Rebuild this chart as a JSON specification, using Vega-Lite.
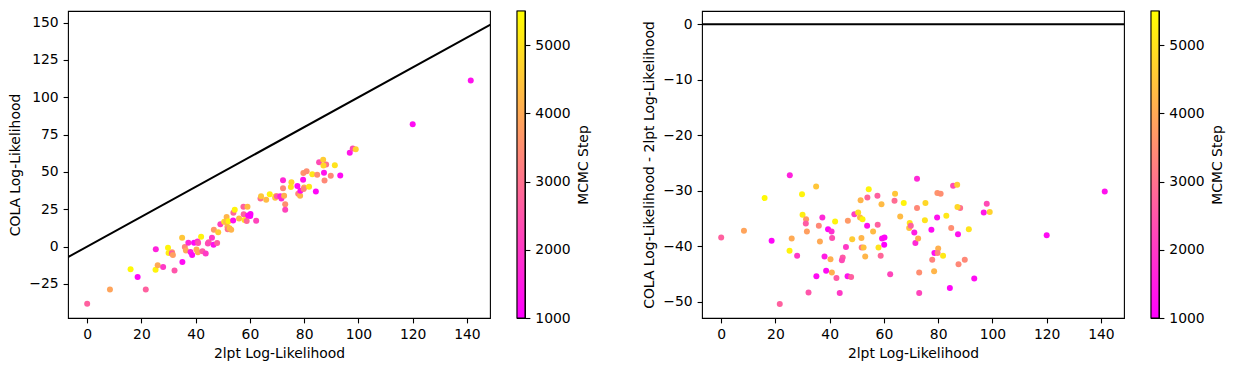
{
  "$schema": "https://vega.github.io/schema/vega-lite/v6.json",
  "padding": {"left": 8, "top": 9, "right": 5, "bottom": 5},
  "background": "white",
  "config": {
    "font": "DejaVu Sans",
    "view": {"stroke": "black", "strokeWidth": 1.1},
    "axis": {
      "labelFont": "DejaVu Sans", "labelFontSize": 13.9, "labelColor": "black",
      "titleFont": "DejaVu Sans", "titleFontSize": 13.9, "titleFontWeight": "normal", "titleColor": "black",
      "tickColor": "black", "tickSize": 4.9, "tickWidth": 1.1, "labelPadding": 4.9,
      "grid": false, "domain": false, "labelFlush": false, "labelOverlap": false, "labelBound": false,
      "titlePadding": 6
    }
  },
  "datasets": {
    "pts": [
      {"x": 0.0, "cola": -38.4, "diff": -38.4, "step": 2700},
      {"x": 8.4, "cola": -28.8, "diff": -37.2, "step": 3900},
      {"x": 16.0, "cola": -15.3, "diff": -31.3, "step": 5400},
      {"x": 18.6, "cola": -20.4, "diff": -39.0, "step": 1100},
      {"x": 21.6, "cola": -28.8, "diff": -50.4, "step": 2700},
      {"x": 25.3, "cola": -1.9, "diff": -27.2, "step": 1600},
      {"x": 25.2, "cola": -15.6, "diff": -40.8, "step": 5300},
      {"x": 26.0, "cola": -12.6, "diff": -38.6, "step": 4000},
      {"x": 28.0, "cola": -13.7, "diff": -41.7, "step": 2000},
      {"x": 29.8, "cola": -0.8, "diff": -30.6, "step": 5300},
      {"x": 30.0, "cola": -4.3, "diff": -34.3, "step": 5200},
      {"x": 31.3, "cola": -3.8, "diff": -35.1, "step": 3700},
      {"x": 31.2, "cola": -4.7, "diff": -35.9, "step": 2600},
      {"x": 31.6, "cola": -5.7, "diff": -37.3, "step": 3800},
      {"x": 32.2, "cola": -16.1, "diff": -48.3, "step": 2500},
      {"x": 35.0, "cola": 5.8, "diff": -29.2, "step": 4500},
      {"x": 35.1, "cola": -10.3, "diff": -45.4, "step": 1200},
      {"x": 36.0, "cola": -0.3, "diff": -36.3, "step": 3400},
      {"x": 36.4, "cola": -2.7, "diff": -39.1, "step": 4000},
      {"x": 37.3, "cola": 2.5, "diff": -34.8, "step": 1700},
      {"x": 38.1, "cola": -3.7, "diff": -41.8, "step": 1500},
      {"x": 38.7, "cola": -5.7, "diff": -44.4, "step": 1200},
      {"x": 39.4, "cola": 2.5, "diff": -36.9, "step": 1100},
      {"x": 40.3, "cola": -2.0, "diff": -42.3, "step": 4100},
      {"x": 40.7, "cola": 3.4, "diff": -37.3, "step": 1800},
      {"x": 40.9, "cola": 2.4, "diff": -38.5, "step": 2400},
      {"x": 40.8, "cola": -3.9, "diff": -44.7, "step": 4100},
      {"x": 42.0, "cola": 6.5, "diff": -35.5, "step": 5300},
      {"x": 42.5, "cola": -3.2, "diff": -45.7, "step": 2600},
      {"x": 43.7, "cola": -4.7, "diff": -48.4, "step": 2000},
      {"x": 44.8, "cola": 2.8, "diff": -42.0, "step": 2600},
      {"x": 44.5, "cola": 2.0, "diff": -42.5, "step": 2300},
      {"x": 46.0, "cola": 5.9, "diff": -40.1, "step": 2000},
      {"x": 46.6, "cola": 1.2, "diff": -45.4, "step": 1300},
      {"x": 47.9, "cola": 2.4, "diff": -45.5, "step": 2700},
      {"x": 46.7, "cola": 11.3, "diff": -35.4, "step": 3700},
      {"x": 48.3, "cola": 9.6, "diff": -38.7, "step": 4600},
      {"x": 49.1, "cola": 14.9, "diff": -34.2, "step": 2100},
      {"x": 50.5, "cola": 16.6, "diff": -33.9, "step": 4900},
      {"x": 51.4, "cola": 19.7, "diff": -31.7, "step": 4200},
      {"x": 51.2, "cola": 16.4, "diff": -34.8, "step": 4300},
      {"x": 51.7, "cola": 13.2, "diff": -38.5, "step": 4200},
      {"x": 51.8, "cola": 11.6, "diff": -40.2, "step": 3000},
      {"x": 52.1, "cola": 17.0, "diff": -35.1, "step": 5300},
      {"x": 52.5, "cola": 12.3, "diff": -40.2, "step": 4400},
      {"x": 53.1, "cola": 11.3, "diff": -41.8, "step": 4200},
      {"x": 53.8, "cola": 17.5, "diff": -36.3, "step": 1300},
      {"x": 53.9, "cola": 22.7, "diff": -31.2, "step": 2800},
      {"x": 54.4, "cola": 24.7, "diff": -29.7, "step": 5300},
      {"x": 56.0, "cola": 18.7, "diff": -37.3, "step": 4300},
      {"x": 57.6, "cola": 26.7, "diff": -30.9, "step": 2700},
      {"x": 57.7, "cola": 21.6, "diff": -36.1, "step": 2700},
      {"x": 58.0, "cola": 17.8, "diff": -40.2, "step": 5000},
      {"x": 58.8, "cola": 17.1, "diff": -41.7, "step": 2800},
      {"x": 59.1, "cola": 26.7, "diff": -32.4, "step": 4300},
      {"x": 59.3, "cola": 20.7, "diff": -38.6, "step": 1200},
      {"x": 60.2, "cola": 21.8, "diff": -38.4, "step": 1100},
      {"x": 60.1, "cola": 20.4, "diff": -39.7, "step": 1000},
      {"x": 62.3, "cola": 17.3, "diff": -45.0, "step": 2200},
      {"x": 63.9, "cola": 32.1, "diff": -31.8, "step": 2900},
      {"x": 64.1, "cola": 33.6, "diff": -30.5, "step": 4500},
      {"x": 66.0, "cola": 31.4, "diff": -34.6, "step": 4300},
      {"x": 67.3, "cola": 35.1, "diff": -32.2, "step": 5300},
      {"x": 69.3, "cola": 32.6, "diff": -36.7, "step": 4400},
      {"x": 69.5, "cola": 33.7, "diff": -35.8, "step": 5000},
      {"x": 69.9, "cola": 33.6, "diff": -36.3, "step": 2700},
      {"x": 71.2, "cola": 33.7, "diff": -37.5, "step": 1500},
      {"x": 71.6, "cola": 32.2, "diff": -39.4, "step": 1700},
      {"x": 72.2, "cola": 44.4, "diff": -27.8, "step": 1700},
      {"x": 72.2, "cola": 39.1, "diff": -33.1, "step": 3400},
      {"x": 72.6, "cola": 34.0, "diff": -38.6, "step": 4100},
      {"x": 73.0, "cola": 28.3, "diff": -44.7, "step": 3500},
      {"x": 73.0, "cola": 24.6, "diff": -48.4, "step": 2200},
      {"x": 75.3, "cola": 43.1, "diff": -32.2, "step": 4800},
      {"x": 75.1, "cola": 39.8, "diff": -35.3, "step": 5000},
      {"x": 77.5, "cola": 40.5, "diff": -37.0, "step": 1200},
      {"x": 77.8, "cola": 35.4, "diff": -42.4, "step": 3300},
      {"x": 78.5, "cola": 34.0, "diff": -44.5, "step": 4200},
      {"x": 78.6, "cola": 37.4, "diff": -41.2, "step": 1200},
      {"x": 79.6, "cola": 44.8, "diff": -34.8, "step": 1300},
      {"x": 79.7, "cola": 49.3, "diff": -30.4, "step": 3600},
      {"x": 80.9, "cola": 50.4, "diff": -30.5, "step": 3500},
      {"x": 80.0, "cola": 39.6, "diff": -40.4, "step": 4100},
      {"x": 79.8, "cola": 38.6, "diff": -41.2, "step": 3300},
      {"x": 81.8, "cola": 40.1, "diff": -41.7, "step": 5100},
      {"x": 83.0, "cola": 48.5, "diff": -34.5, "step": 5100},
      {"x": 84.3, "cola": 36.8, "diff": -47.5, "step": 1100},
      {"x": 84.8, "cola": 48.1, "diff": -36.7, "step": 3500},
      {"x": 85.5, "cola": 56.4, "diff": -29.1, "step": 2300},
      {"x": 87.0, "cola": 58.1, "diff": -28.9, "step": 4600},
      {"x": 88.1, "cola": 55.0, "diff": -33.1, "step": 3000},
      {"x": 87.1, "cola": 54.2, "diff": -32.9, "step": 4800},
      {"x": 87.3, "cola": 49.5, "diff": -37.8, "step": 1300},
      {"x": 87.5, "cola": 44.3, "diff": -43.2, "step": 3400},
      {"x": 89.8, "cola": 47.4, "diff": -42.4, "step": 3400},
      {"x": 91.3, "cola": 54.4, "diff": -36.9, "step": 5000},
      {"x": 93.3, "cola": 47.5, "diff": -45.8, "step": 1200},
      {"x": 96.8, "cola": 62.9, "diff": -33.9, "step": 1400},
      {"x": 97.9, "cola": 65.6, "diff": -32.3, "step": 2300},
      {"x": 99.0, "cola": 65.2, "diff": -33.8, "step": 4700},
      {"x": 120.0, "cola": 82.0, "diff": -38.0, "step": 1200},
      {"x": 141.4, "cola": 111.3, "diff": -30.1, "step": 1300}
    ],
    "diag": [{"ax": -20, "ay": -20, "bx": 170, "by": 170}],
    "zero": [{"z": 0}],
    "bar": [{"lo": 1000, "hi": 5500}]
  },
  "bounds": "flush",
  "spacing": 27,
  "hconcat": [
    {
      "width": 422, "height": 307,
      "layer": [
        {
          "data": {"name": "pts"},
          "mark": {"type": "circle", "size": 36, "opacity": 1},
          "encoding": {
            "x": {"field": "x", "type": "quantitative", "scale": {"domain": [-7.07, 148.5], "nice": false, "zero": false},
                  "axis": {"title": "2lpt Log-Likelihood", "values": [0, 20, 40, 60, 80, 100, 120, 140], "titlePadding": 5}},
            "y": {"field": "cola", "type": "quantitative", "scale": {"domain": [-47.9, 157.8], "nice": false, "zero": false},
                  "axis": {"title": "COLA Log-Likelihood", "values": [-25, 0, 25, 50, 75, 100, 125, 150]}},
            "color": {"field": "step", "type": "quantitative", "scale": {"domain": [1000, 5500], "range": ["#ff00ff", "#ffff00"], "interpolate": "rgb"}, "legend": null}
          }
        },
        {
          "data": {"name": "diag"},
          "mark": {"type": "rule", "color": "black", "strokeWidth": 2.08, "clip": true},
          "encoding": {
            "x": {"field": "ax", "type": "quantitative", "axis": {"title": "2lpt Log-Likelihood"}},
            "y": {"field": "ay", "type": "quantitative", "axis": {"title": "COLA Log-Likelihood"}},
            "x2": {"field": "bx"},
            "y2": {"field": "by"}
          }
        }
      ]
    },
    {
      "width": 8, "height": 307,
      "data": {"name": "bar"},
      "mark": {"type": "rect", "color": {"gradient": "linear", "x1": 0, "y1": 1, "x2": 0, "y2": 0,
               "stops": [{"offset": 0, "color": "#ff00ff"}, {"offset": 1, "color": "#ffff00"}]},
               "stroke": "black", "strokeWidth": 1.1},
      "encoding": {
        "y": {"field": "lo", "type": "quantitative", "scale": {"domain": [1000, 5500], "nice": false, "zero": false},
              "axis": {"orient": "right", "values": [1000, 2000, 3000, 4000, 5000], "format": "d", "title": "MCMC Step", "titleAngle": -90, "titleBaseline": "top", "titlePadding": 6}},
        "y2": {"field": "hi"}
      }
    },
    {
      "width": 123, "height": 307,
      "view": {"stroke": null},
      "data": {"values": []},
      "mark": "point"
    },
    {
      "width": 422, "height": 307,
      "layer": [
        {
          "data": {"name": "pts"},
          "mark": {"type": "circle", "size": 36, "opacity": 1},
          "encoding": {
            "x": {"field": "x", "type": "quantitative", "scale": {"domain": [-7.07, 148.5], "nice": false, "zero": false},
                  "axis": {"title": "2lpt Log-Likelihood", "values": [0, 20, 40, 60, 80, 100, 120, 140], "titlePadding": 5}},
            "y": {"field": "diff", "type": "quantitative", "scale": {"domain": [-52.9, 2.4], "nice": false, "zero": false},
                  "axis": {"title": "COLA Log-Likelihood - 2lpt Log-Likelihood", "values": [-50, -40, -30, -20, -10, 0]}},
            "color": {"field": "step", "type": "quantitative", "scale": {"domain": [1000, 5500], "range": ["#ff00ff", "#ffff00"], "interpolate": "rgb"}, "legend": null}
          }
        },
        {
          "data": {"name": "zero"},
          "mark": {"type": "rule", "color": "black", "strokeWidth": 2.08},
          "encoding": {
            "y": {"field": "z", "type": "quantitative", "axis": {"title": "COLA Log-Likelihood - 2lpt Log-Likelihood"}}
          }
        }
      ]
    },
    {
      "width": 8, "height": 307,
      "data": {"name": "bar"},
      "mark": {"type": "rect", "color": {"gradient": "linear", "x1": 0, "y1": 1, "x2": 0, "y2": 0,
               "stops": [{"offset": 0, "color": "#ff00ff"}, {"offset": 1, "color": "#ffff00"}]},
               "stroke": "black", "strokeWidth": 1.1},
      "encoding": {
        "y": {"field": "lo", "type": "quantitative", "scale": {"domain": [1000, 5500], "nice": false, "zero": false},
              "axis": {"orient": "right", "values": [1000, 2000, 3000, 4000, 5000], "format": "d", "title": "MCMC Step", "titleAngle": -90, "titleBaseline": "top", "titlePadding": 6}},
        "y2": {"field": "hi"}
      }
    }
  ],
  "resolve": {"scale": {"x": "independent", "y": "independent", "color": "independent"}}
}
